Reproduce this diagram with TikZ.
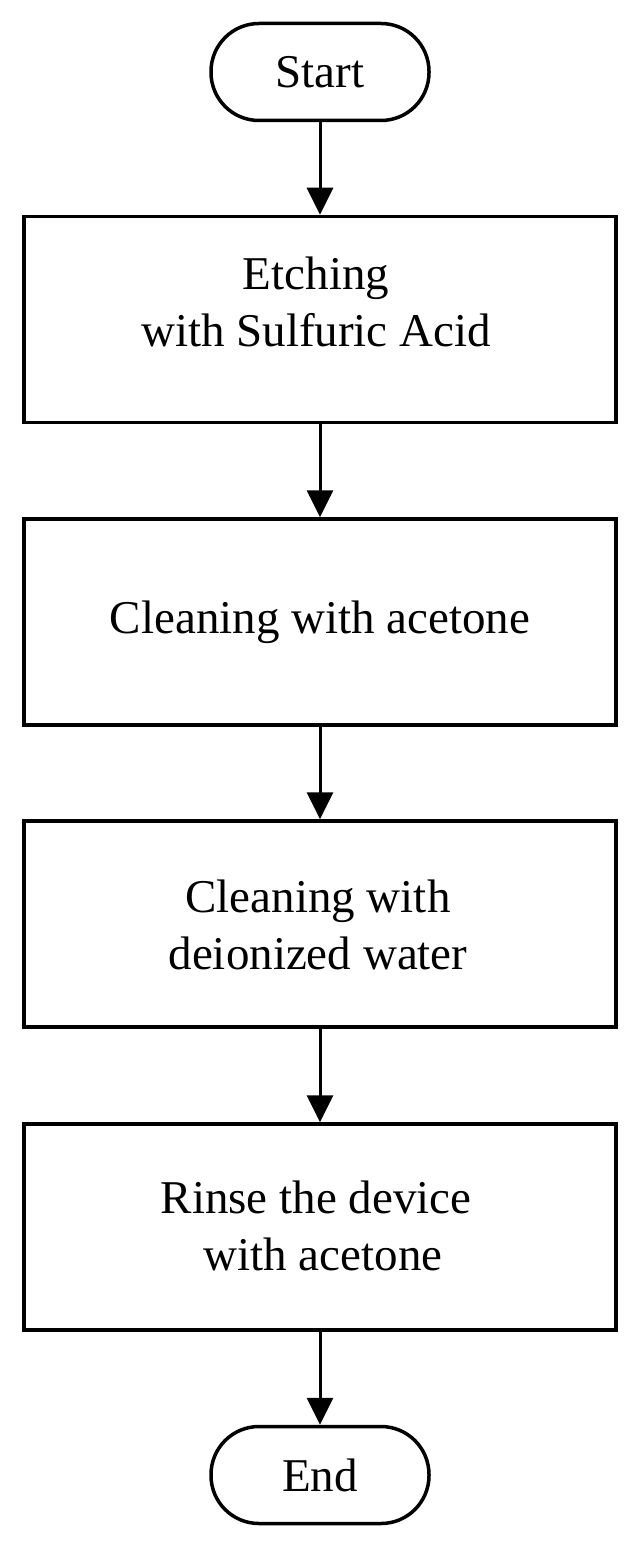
\documentclass[tikz,border=0pt]{standalone}
\usepackage{fontspec}
\setmainfont{Liberation Serif}
\usetikzlibrary{arrows.meta}
\begin{document}
\begin{tikzpicture}[x=1pt,y=-1pt,
  every node/.style={font=\fontsize{47}{57}\selectfont},
  term/.style={draw,line width=3.5pt,rounded corners=48pt,minimum width=218pt,minimum height=97pt,inner sep=0pt},
  procbox/.style={draw,line width=3.5pt,minimum width=592pt,minimum height=206pt,inner sep=0pt},
  txt/.style={align=center,inner sep=0pt},
  conn/.style={line width=3pt,-{Triangle[length=27pt,width=26pt]}}]
\useasboundingbox (0,0) rectangle (639,1549);
\node[term] (start) at (320,72) {Start};
\node[procbox] (b1) at (320,319.5) {};
\node[txt] (t1) at (316,302) {Etching\\with Sulfuric Acid};
\node[procbox] (b2) at (320,622) {Cleaning with acetone};
\node[procbox] (b3) at (320,924) {};
\node[txt] (t3) at (318,925) {Cleaning with\\deionized water};
\node[procbox] (b4) at (320,1227) {};
\node[txt] (t4) at (316,1226) {Rinse the device\\\hspace*{0.3em}with acetone};
\node[term] (end) at (320,1475) {End};
\draw[conn] (start) -- (b1);
\draw[conn] (b1) -- (b2);
\draw[conn] (b2) -- (b3);
\draw[conn] (b3) -- (b4);
\draw[conn] (b4) -- (end);
\end{tikzpicture}
\end{document}
